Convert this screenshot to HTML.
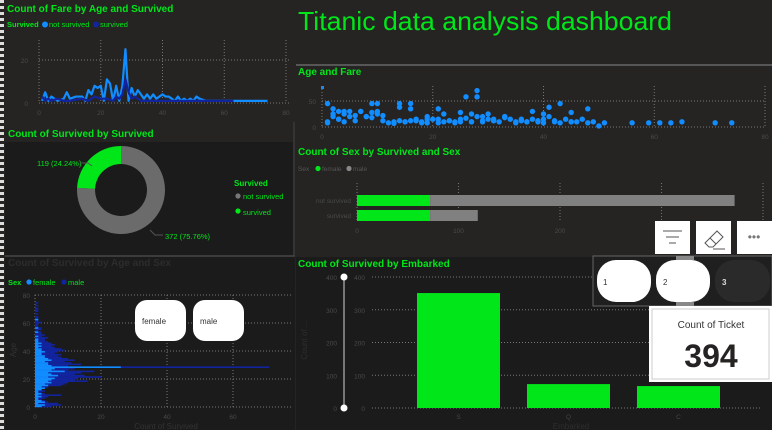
<!DOCTYPE html>
<html><head><meta charset="utf-8">
<style>
html,body{margin:0;padding:0;background:#252423;width:772px;height:430px;overflow:hidden;font-family:"Liberation Sans",sans-serif}
svg{display:block}
text{font-family:"Liberation Sans",sans-serif}
</style></head>
<body>
<svg id="s" width="772" height="430" viewBox="0 0 772 430">
<rect x="0" y="0" width="772" height="430" fill="#252423"/>
<line x1="2" y1="0" x2="2" y2="430" stroke="#ddd" stroke-width="4" stroke-dasharray="3,3"/>
<rect x="5" y="142" width="288" height="113" fill="#1b1b1b"/>
<rect x="5" y="257" width="290" height="173" fill="#1b1b1b"/>
<rect x="296" y="257" width="476" height="173" fill="#1b1b1b"/>
<line x1="5" y1="256" x2="295" y2="256" stroke="#555"/>
<line x1="294" y1="122" x2="294" y2="256" stroke="#444"/>
<line x1="296" y1="65" x2="772" y2="65" stroke="#888"/>
<text x="298" y="30" font-size="26" fill="#00e619" textLength="374" lengthAdjust="spacingAndGlyphs">Titanic data analysis dashboard</text>

<g id="g1">
<text x="7" y="12" font-size="10" font-weight="bold" fill="#00e619">Count of Fare by Age and Survived</text>
<text x="7" y="27" font-size="7.5" font-weight="bold" fill="#00e619">Survived</text>
<circle cx="45" cy="24.5" r="3" fill="#118dff"/>
<text x="49" y="27" font-size="7.5" fill="#00e619">not survived</text>
<circle cx="96" cy="24.5" r="3" fill="#12239e"/>
<text x="100" y="27" font-size="7.5" fill="#00e619">survived</text>
</g>

<g id="g2">
<rect x="5" y="125" width="288" height="17" fill="#252423"/>
<text x="8" y="137" font-size="10" font-weight="bold" fill="#00e619">Count of Survived by Survived</text>
<text x="234" y="186" font-size="8" font-weight="bold" fill="#00e619">Survived</text>
<circle cx="238" cy="196" r="2.6" fill="#777"/>
<text x="243" y="199" font-size="7.5" fill="#00e619">not survived</text>
<circle cx="238" cy="211" r="2.6" fill="#00e619"/>
<text x="243" y="215" font-size="7.5" fill="#00e619">survived</text>
</g>

<g id="g3">
<text x="8" y="266" font-size="10" font-weight="bold" fill="#2c2c2c">Count of Survived by Age and Sex</text>
<text x="8" y="285" font-size="7.5" font-weight="bold" fill="#00e619">Sex</text>
<circle cx="29" cy="282" r="2.6" fill="#118dff"/>
<text x="33" y="285" font-size="7.5" fill="#00e619">female</text>
<circle cx="64" cy="282" r="2.6" fill="#12239e"/>
<text x="68" y="285" font-size="7.5" fill="#00e619">male</text>
<text x="16" y="350" font-size="8" fill="#333" transform="rotate(-90 16 350)" text-anchor="middle">Age</text>
<text x="166" y="429" font-size="8" fill="#333" text-anchor="middle">Count of Survived</text>
</g>

<g id="g4">
<text x="298" y="75" font-size="10" font-weight="bold" fill="#00e619">Age and Fare</text>
<rect x="321" y="86" width="3" height="3" fill="#118dff"/>
</g>

<g id="g5">
<text x="298" y="155" font-size="10" font-weight="bold" fill="#00e619">Count of Sex by Survived and Sex</text>
<text x="298" y="171" font-size="6.5" fill="#555">Sex</text>
<circle cx="318" cy="168.5" r="2.6" fill="#00e619"/>
<text x="322" y="171" font-size="6.5" fill="#555">female</text>
<circle cx="349" cy="168.5" r="2.6" fill="#888"/>
<text x="353" y="171" font-size="6.5" fill="#555">male</text>
</g>

<g id="g6">
<text x="298" y="267" font-size="10" font-weight="bold" fill="#00e619">Count of Survived by Embarked</text>
<text x="571" y="429" font-size="8" fill="#2e2e2e" text-anchor="middle">Embarked</text>
<text x="307" y="340" font-size="8" fill="#2e2e2e" transform="rotate(-90 307 340)" text-anchor="middle">Count of ...</text>
</g>

<rect x="655" y="221" width="35" height="33" fill="#fff"/>
<g stroke="#555" stroke-width="1"><line x1="663" y1="231" x2="682" y2="231"/><line x1="666" y1="237" x2="679" y2="237"/><line x1="669" y1="243" x2="676" y2="243"/></g>
<rect x="696" y="221" width="35" height="33" fill="#fff"/>
<g fill="none" stroke="#555" stroke-width="1"><path d="M705 243 L717 231 L723 237 L713 247 L709 247 Z"/><line x1="710" y1="238" x2="716" y2="244"/><line x1="713" y1="249" x2="725" y2="249"/></g>
<rect x="737" y="221" width="35" height="33" fill="#fff"/>
<text x="754" y="241" font-size="12" fill="#777" text-anchor="middle">•••</text>

<rect x="593" y="256" width="179" height="50" fill="#1f1f1f" stroke="#666" stroke-width="1"/>
<rect x="597" y="260" width="54" height="42" rx="19" fill="#fff"/>
<text x="603" y="285" font-size="8" fill="#333">1</text>
<rect x="656" y="260" width="54" height="42" rx="19" fill="#fff"/>
<text x="663" y="285" font-size="8" fill="#333">2</text>
<rect x="715" y="260" width="55" height="42" rx="19" fill="#2a2a2a"/>
<text x="722" y="285" font-size="8" font-weight="bold" fill="#ddd">3</text>
<rect x="676" y="256" width="18" height="4" fill="#888"/><rect x="676" y="302" width="18" height="4" fill="#888"/>

<rect x="649" y="306" width="123" height="76" fill="#fff"/>
<rect x="652" y="309" width="117" height="70" fill="none" stroke="#ccc"/>
<text x="711" y="328" font-size="10" fill="#333" text-anchor="middle">Count of Ticket</text>
<text x="711" y="367" font-size="32" font-weight="bold" fill="#252423" text-anchor="middle">394</text>

<rect x="135" y="300" width="51" height="41" rx="12" fill="#fff"/>
<text x="142" y="324" font-size="8" fill="#333">female</text>
<rect x="193" y="300" width="51" height="41" rx="12" fill="#fff"/>
<text x="200" y="324" font-size="8" fill="#333">male</text>
</svg>
<script>
const fareAgesNS=[1,2,3,4,5,6,8,9,10,12,14,15,16,17,18,19,20,21,22,23,24,25,26,27,28,29,30,31,32,33,34,35,36,37,38,39,40,41,42,43,44,45,46,47,48,49,50,51,52,54,56,60,65,70,74];
const fareCountsNS=[1,5,1,3,2,1,2,5,2,3,3,1,6,4,8,7,8,1,11,9,1,8,1,8,25,1,7,3,6,4,2,4,2,4,2,3,4,3,3,2,1,3,1,2,1,2,1,3,2,1,1,1,1,1,1];
const fareAgesS=[1,2,3,4,6,8,10,14,16,18,20,22,24,25,26,27,28,29,30,31,32,33,36,40,50,63];
const fareCountsS=[3,1,2,1,2,1,1,2,1,3,2,2,1,3,2,4,11,5,2,3,2,1,1,1,1,1];
const donutLabels=["not survived","survived"];
const donutValues=[372,119];
const scatterAge=[1,1,2,2,3,3,4,4,5,6,7,8,9,9,10,10,11,12,13,14,14,15,16,16,17,18,19,19,20,21,22,22,23,24,25,25,26,26,27,28,28,28,29,30,30,31,32,33,34,35,36,37,38,39,40,40,41,42,43,44,45,45,46,47,48,49,50,51,56,59,61,63,65,71,74,2,4,6,8,10,14,16,18,21,24,27,29,31,33,36,38,40,42,45,48,1,3,5,7,9,11,13,15,17,19,21,23,25,27,29,31,33,35,37,39,41,43];
const scatterFare=[8,45,20,35,15,30,25,10,30,12,30,20,28,45,25,45,12,8,7,45,38,10,45,35,15,10,20,8,15,35,25,10,12,8,10,28,17,58,10,20,70,58,10,15,25,12,10,20,15,8,12,10,30,10,25,8,38,10,45,15,10,28,10,15,35,10,2,8,8,8,8,8,10,8,8,25,30,22,20,30,12,12,8,15,10,25,20,12,18,15,15,15,12,10,8,10,15,20,30,18,22,10,10,12,15,8,12,15,10,12,15,20,10,10,12,20,8];
const sexCats=["not survived","survived"];
const sexFemale=[72,72];
const sexMale=[300,47];
const ageFemale=[2,3,1,3,2,1,1,2,1,2,1,1,2,3,2,4,3,5,4,5,6,4,7,5,4,9,5,6,26,5,4,4,3,5,4,3,3,2,2,3,2,2,1,2,1,2,1,1,1,0,1,0,0,1,0,0,1,0,0,0,0,0,1,0,0,0,0,0,0,0,0,0,0,0,0];
const ageMale=[5,8,7,4,3,2,3,4,8,3,2,3,2,3,4,8,9,10,16,12,13,20,15,12,14,18,10,12,71,10,14,11,9,12,10,8,7,8,6,7,9,8,6,5,6,5,4,3,3,4,2,3,2,2,1,2,2,1,1,1,2,1,1,1,1,0,1,0,1,1,1,0,1,0,1];
const embCats=["S","Q","C"];
const embValues=[351,73,67];
const NS="http://www.w3.org/2000/svg";
function mk(p,tag,a){const e=document.createElementNS(NS,tag);for(const k in a)e.setAttribute(k,a[k]);p.appendChild(e);return e;}
const grid={stroke:"#777","stroke-width":1,"stroke-dasharray":"1,2"};
function txt(p,x,y,s,opt){const e=mk(p,"text",Object.assign({x:x,y:y,"font-size":6.5,fill:"#4a4a4a"},opt||{}));e.textContent=s;return e;}

(function(){
const g=document.getElementById("g1");
const X=a=>39+a*(247/80), Y=v=>103-v*(43/20);
[0,20,40,60,80].forEach(t=>{mk(g,"line",Object.assign({x1:X(t),x2:X(t),y1:40,y2:103},grid));
const l=txt(g,X(t),115,String(t),{"text-anchor":"middle"});});
[0,20].forEach(t=>{mk(g,"line",Object.assign({x1:39,x2:290,y1:Y(t),y2:Y(t)},grid));
const l=txt(g,28,Y(t)+3,String(t),{"text-anchor":"end"});});
const p1=mk(g,"polyline",{points:fareAgesNS.map((a,i)=>X(a)+","+Y(fareCountsNS[i])).join(" "),fill:"none",stroke:"#118dff","stroke-width":2.2,"stroke-linejoin":"round"});

const p2=mk(g,"polyline",{points:fareAgesS.map((a,i)=>X(a)+","+Y(fareCountsS[i])).join(" "),fill:"none",stroke:"#12239e","stroke-width":2.2,"stroke-linejoin":"round"});

})();

(function(){
const g=document.getElementById("g2");
const cx=121,cy=190,R=44,r=26,tot=donutValues.reduce((a,b)=>a+b,0);
const cols=["#6b6b6b","#00e619"];
let start=0;
donutValues.forEach((v,i)=>{
 const a0=start/tot*2*Math.PI, a1=(start+v)/tot*2*Math.PI; start+=v;
 const P=(rad,a)=>[cx+rad*Math.sin(a),cy-rad*Math.cos(a)];
 const lg=(a1-a0)>Math.PI?1:0;
 const [x0,y0]=P(R,a0),[x1,y1]=P(R,a1),[x2,y2]=P(r,a1),[x3,y3]=P(r,a0);
 const s=mk(g,"path",{d:`M${x0},${y0} A${R},${R} 0 ${lg} 1 ${x1},${y1} L${x2},${y2} A${r},${r} 0 ${lg} 0 ${x3},${y3} Z`,fill:cols[i]});
 
 
});
const pct=v=>(v/tot*100).toFixed(2)+"%";
const l1=txt(g,37,166,donutValues[1]+" ("+pct(donutValues[1])+")",{fill:"#00e619","font-size":7.5});

mk(g,"polyline",{points:"80,163 88,163 92,166",fill:"none",stroke:"#555"});
const l2=txt(g,165,239,donutValues[0]+" ("+pct(donutValues[0])+")",{fill:"#00e619","font-size":7.5});

mk(g,"polyline",{points:"150,230 155,235 163,235",fill:"none",stroke:"#555"});
})();

(function(){
const g=document.getElementById("g3");
const X=v=>35+v*(66/20), Y=a=>407-a*(112/80);
[0,20,40,60,80].forEach(t=>{mk(g,"line",Object.assign({x1:35,x2:293,y1:Y(t),y2:Y(t)},grid));
const l=txt(g,30,Y(t)+3,String(t),{"text-anchor":"end"});});
[0,20,40,60].forEach(t=>{mk(g,"line",Object.assign({x1:X(t),x2:X(t),y1:295,y2:407},grid));
const l=txt(g,X(t),419,String(t),{"text-anchor":"middle"});});
ageMale.forEach((v,a)=>{if(!v)return;const b=mk(g,"rect",{x:X(0),y:Y(a)-1.4,width:X(v)-X(0),height:1.6,fill:"#12239e"});
});
ageFemale.forEach((v,a)=>{if(!v)return;const b=mk(g,"rect",{x:X(0),y:Y(a)-1.4,width:X(v)-X(0),height:1.6,fill:"#118dff"});
});
})();

(function(){
const g=document.getElementById("g4");
const X=a=>322+a*(443/80), Y=f=>127-f*(26/50);
[0,20,40,60,80].forEach(t=>{mk(g,"line",Object.assign({x1:X(t),x2:X(t),y1:86,y2:127},grid));
const l=txt(g,X(t),139,String(t),{"text-anchor":"middle"});});
[0,50].forEach(t=>{mk(g,"line",Object.assign({x1:322,x2:765,y1:Y(t),y2:Y(t)},grid));
const l=txt(g,316,Y(t)+3,String(t),{"text-anchor":"end"});});
scatterAge.forEach((a,i)=>{const c=mk(g,"circle",{cx:X(a),cy:Y(scatterFare[i]),r:2.7,fill:"#118dff"});
});
})();

(function(){
const g=document.getElementById("g5");
const X=v=>357+v*(101.5/100), rowY=[195,210], h=11;
[0,100,200,300,400].forEach(t=>{mk(g,"line",Object.assign({x1:X(t),x2:X(t),y1:183,y2:222},grid));
if(t<300){const l=txt(g,X(t),233,String(t),{"text-anchor":"middle","font-size":6.5});}});
sexCats.forEach((c,i)=>{
 const l=txt(g,351,rowY[i]+8,c,{"text-anchor":"end","font-size":6.5});
 const f=mk(g,"rect",{x:X(0),y:rowY[i],width:X(sexFemale[i])-X(0),height:h,fill:"#00e619"});
 
 const m=mk(g,"rect",{x:X(sexFemale[i]),y:rowY[i],width:X(sexFemale[i]+sexMale[i])-X(sexFemale[i]),height:h,fill:"#808080"});
 
});
})();

(function(){
const g=document.getElementById("g6");
const Y=v=>408-v*(131/400), xs0=417, step=110, w=83;
[0,100,200,300,400].forEach(t=>{mk(g,"line",Object.assign({x1:372,x2:762,y1:Y(t),y2:Y(t)},grid));
const a=txt(g,365,Y(t)+3,String(t),{"text-anchor":"end","font-size":6.5});
const b=txt(g,337,Y(t)+3,String(t),{"text-anchor":"end","font-size":6.5});});
const sl=mk(g,"line",{x1:344,x2:344,y1:Y(400),y2:Y(0),stroke:"#777","stroke-width":2});

[400,0].forEach(t=>{const c=mk(g,"circle",{cx:344,cy:Y(t),r:3.5,fill:"#fff"});});
embCats.forEach((c,i)=>{
 const x=xs0+i*step;
 const b=mk(g,"rect",{x:x,y:Y(embValues[i]),width:w,height:Y(0)-Y(embValues[i]),fill:"#00e619"});
 
 const l=txt(g,x+w/2,419,c,{"text-anchor":"middle","font-size":6.5,fill:"#444"});
});
})();
</script>
</body></html>
